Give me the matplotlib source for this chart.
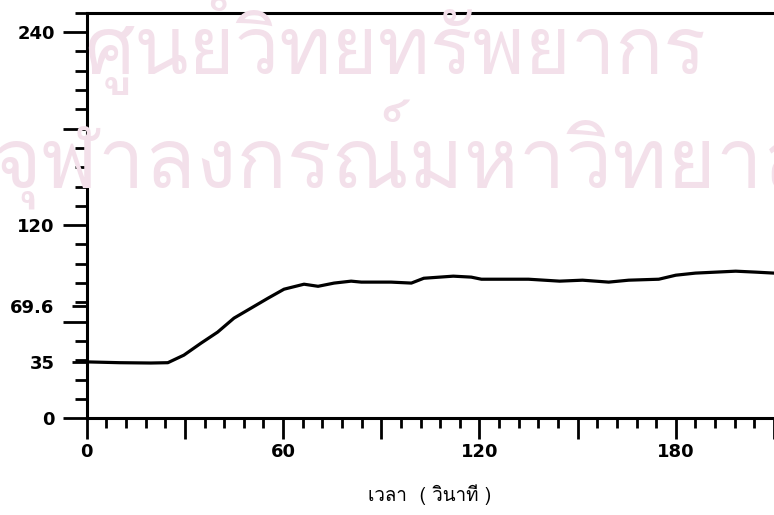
import matplotlib
matplotlib.use("Agg")
import matplotlib.pyplot as plt
from matplotlib import font_manager
from matplotlib.ft2font import FT2Font
from matplotlib.ticker import MultipleLocator

# datos (tiempo en segundos)
tiempo = [0, 10, 19.6, 24.8, 29.7, 34.9, 40, 45, 50.2, 55.4, 60.3, 66.4, 70.7,
          75.6, 80.8, 83.9, 93, 99.2, 103, 112, 117.5, 120.6, 128.9, 135,
          144.5, 151.5, 159.5, 165.6, 174.8, 180, 186, 198.3, 204.5, 210]
valor = [35, 34.5, 34.3, 34.5, 39.2, 46.6, 53.5, 62.2, 68.4, 74.6, 80.2, 83.3, 82,
         84, 85.2, 84.6, 84.6, 84, 87, 88.3, 87.7, 86.4, 86.4, 86.4,
         85.2, 85.8, 84.6, 85.8, 86.4, 88.9, 90.2, 91.4, 90.8, 90.2]

y_ticks = [0, 35, 60, 69.6, 120, 180, 240]
y_labels = ["0", "35", "", "69.6", "120", "", "240"]
x_ticks = [0, 30, 60, 90, 120, 150, 180, 210]
x_labels = ["0", "", "60", "", "120", "", "180", ""]
xlabel = "เวลา  ( วินาที )"
marca_agua = ["ศูนย์วิทยทรัพยากร", "จุฬาลงกรณ์มหาวิทยาลัย"]

# buscar una fuente que tenga glifos tailandeses
fuente_thai = "DejaVu Sans"
for f in font_manager.fontManager.ttflist:
    try:
        if ord("ว") in FT2Font(f.fname).get_charmap():
            fuente_thai = f.name
            break
    except Exception:
        pass

fig = plt.figure(figsize=(7.74, 5.15), dpi=100)
ax = fig.add_axes([0.112, 0.188, 0.888, 0.787])
ax.patch.set_alpha(0)

# marca de agua
fig.text(0.51, 0.918, marca_agua[0], fontsize=57, color="#f3e0ea",
         family=[fuente_thai, "DejaVu Sans"], ha="center", va="center", zorder=0)
fig.text(-0.01, 0.70, marca_agua[1], fontsize=60, color="#f3e0ea",
         family=[fuente_thai, "DejaVu Sans"], ha="left", va="center", zorder=0)

ax.plot(tiempo, valor, color="black", linewidth=2.3)

ax.set_xlim(0, 210)
ax.set_ylim(0, 252)

ax.spines["right"].set_visible(False)
for s in ["left", "bottom", "top"]:
    ax.spines[s].set_linewidth(2.2)

ax.set_yticks(y_ticks)
ax.set_yticklabels(y_labels)
ax.yaxis.set_minor_locator(MultipleLocator(12))
ax.set_xticks(x_ticks)
ax.set_xticklabels(x_labels)
ax.xaxis.set_minor_locator(MultipleLocator(6))

ax.tick_params(axis="y", which="major", direction="out", length=17, width=2, pad=6,
               labelsize=13)
ax.tick_params(axis="y", which="minor", direction="out", length=8.5, width=2)
ax.tick_params(axis="x", which="major", direction="out", length=15, width=2, pad=3,
               labelsize=13)
ax.tick_params(axis="x", which="minor", direction="out", length=7, width=2)
for lab in ax.get_xticklabels() + ax.get_yticklabels():
    lab.set_fontweight("bold")

# marcas cortas en 35 y 69.6
for t, v in zip(ax.yaxis.get_major_ticks(), y_ticks):
    if v in (35, 69.6):
        t.tick1line.set_markersize(11)

fig.text(0.555, 0.04, xlabel, fontsize=13.5, family=[fuente_thai, "DejaVu Sans"],
         ha="center", va="center")

plt.savefig("out.png")
